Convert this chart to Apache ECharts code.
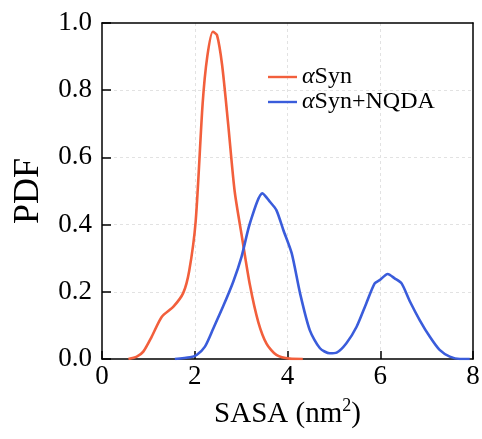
<!DOCTYPE html>
<html>
<head>
<meta charset="utf-8">
<script src="https://cdn.jsdelivr.net/npm/echarts@6/dist/echarts.min.js"></script>
<style>
  html, body { margin: 0; padding: 0; background: #fff; }
  #chart { width: 482px; height: 439px; }
</style>
</head>
<body>
<div id="chart"></div>
<script>
// SASA probability density for the two systems
const seriesNames = ['αSyn', 'αSyn+NQDA'];

const synX = [0.57, 0.75, 0.89, 1.07, 1.29, 1.54, 1.75, 1.88, 2.02, 2.17, 2.27, 2.39, 2.48, 2.59, 2.72, 2.86, 3.01, 3.19, 3.37, 3.55, 3.76, 4.05, 4.33];
const synY = [0, 0.007, 0.022, 0.066, 0.126, 0.156, 0.196, 0.262, 0.41, 0.76, 0.90, 0.974, 0.964, 0.875, 0.70, 0.50, 0.37, 0.22, 0.11, 0.045, 0.012, 0.001, 0];

const nqdaX = [1.57, 1.90, 2.04, 2.22, 2.40, 2.61, 2.83, 3.01, 3.19, 3.46, 3.62, 3.76, 3.91, 4.09, 4.27, 4.48, 4.70, 4.91, 5.06, 5.27, 5.49, 5.70, 5.88, 5.99, 6.16, 6.31, 6.46, 6.64, 6.85, 7.07, 7.28, 7.50, 7.72, 7.93];
const nqdaY = [0, 0.005, 0.012, 0.037, 0.091, 0.156, 0.23, 0.305, 0.404, 0.493, 0.468, 0.443, 0.384, 0.315, 0.196, 0.086, 0.032, 0.017, 0.019, 0.047, 0.096, 0.166, 0.225, 0.235, 0.253, 0.24, 0.225, 0.171, 0.116, 0.066, 0.027, 0.007, 0, 0];

const xTicks = { min: 0, max: 8, interval: 2 };
const yTicks = { min: 0, max: 1, interval: 0.2 };

const FONT = "'Liberation Serif', 'Times New Roman', serif";
const RED = '#f25f3c';
const BLUE = '#3a5cdb';

const pairs = (xs, ys) => xs.map((x, i) => [x, ys[i]]);

// plain frame lines for the top and right sides of the plot box
const frameAxis = {
  show: true,
  axisLine: { show: true, onZero: false, lineStyle: { color: '#000', width: 1.5 } },
  axisTick: { show: false },
  axisLabel: { show: false },
  splitLine: { show: false }
};

const chart = echarts.init(document.getElementById('chart'), null, { renderer: 'canvas' });

chart.setOption({
  backgroundColor: '#fff',
  animation: false,
  grid: { left: 102, right: 9, top: 23, bottom: 80, containLabel: false, outerBoundsMode: 'none' },
  legend: {
    data: seriesNames,
    orient: 'vertical',
    left: 263, top: 60,
    itemWidth: 29, itemHeight: 10, itemGap: 1,
    icon: 'path://M0,3.8 L29,3.8 L29,6.2 L0,6.2 Z',
    formatter: name => name.replace('α', '{i|α}'),
    textStyle: {
      fontFamily: FONT, fontSize: 24, color: '#000',
      rich: { i: { fontFamily: FONT, fontSize: 24, fontStyle: 'italic', color: '#000' } }
    }
  },
  xAxis: [
    {
      type: 'value',
      min: xTicks.min, max: xTicks.max, interval: xTicks.interval,
      name: 'SASA (nm{s|2})',
      nameLocation: 'middle', nameGap: 38,
      nameTextStyle: {
        fontFamily: FONT, fontSize: 29, color: '#000',
        rich: { s: { fontFamily: FONT, fontSize: 18, color: '#000', verticalAlign: 'top', padding: [0, 0, 16, 0] } }
      },
      axisLine: { show: true, onZero: false, lineStyle: { color: '#000', width: 1.5 } },
      axisTick: { show: true, inside: true, length: 8, lineStyle: { color: '#000', width: 1.5 } },
      axisLabel: { fontFamily: FONT, fontSize: 27, color: '#000', margin: 4 },
      splitLine: { show: true, showMinLine: false, showMaxLine: false, lineStyle: { color: '#e2e2e2', type: [3, 3], width: 1 } }
    },
    Object.assign({ type: 'value', position: 'top', min: xTicks.min, max: xTicks.max }, frameAxis)
  ],
  yAxis: [
    {
      type: 'value',
      min: yTicks.min, max: yTicks.max, interval: yTicks.interval,
      name: 'PDF',
      nameLocation: 'middle', nameGap: 55, nameRotate: 90,
      nameTextStyle: { fontFamily: FONT, fontSize: 36, color: '#000' },
      axisLine: { show: true, onZero: false, lineStyle: { color: '#000', width: 1.5 } },
      axisTick: { show: true, inside: true, length: 9, lineStyle: { color: '#000', width: 1.5 } },
      axisLabel: {
        fontFamily: FONT, fontSize: 27, color: '#000', margin: 10,
        formatter: v => v.toFixed(1)
      },
      splitLine: { show: true, showMinLine: false, showMaxLine: false, lineStyle: { color: '#e2e2e2', type: [3, 3], width: 1 } }
    },
    Object.assign({ type: 'value', position: 'right', min: yTicks.min, max: yTicks.max }, frameAxis)
  ],
  series: [
    {
      name: seriesNames[0], type: 'line', data: pairs(synX, synY),
      showSymbol: false, smooth: 0.25,
      lineStyle: { color: RED, width: 2.6 }, itemStyle: { color: RED }
    },
    {
      name: seriesNames[1], type: 'line', data: pairs(nqdaX, nqdaY),
      showSymbol: false, smooth: 0.25,
      lineStyle: { color: BLUE, width: 2.6 }, itemStyle: { color: BLUE }
    }
  ]
});
</script>
</body>
</html>
